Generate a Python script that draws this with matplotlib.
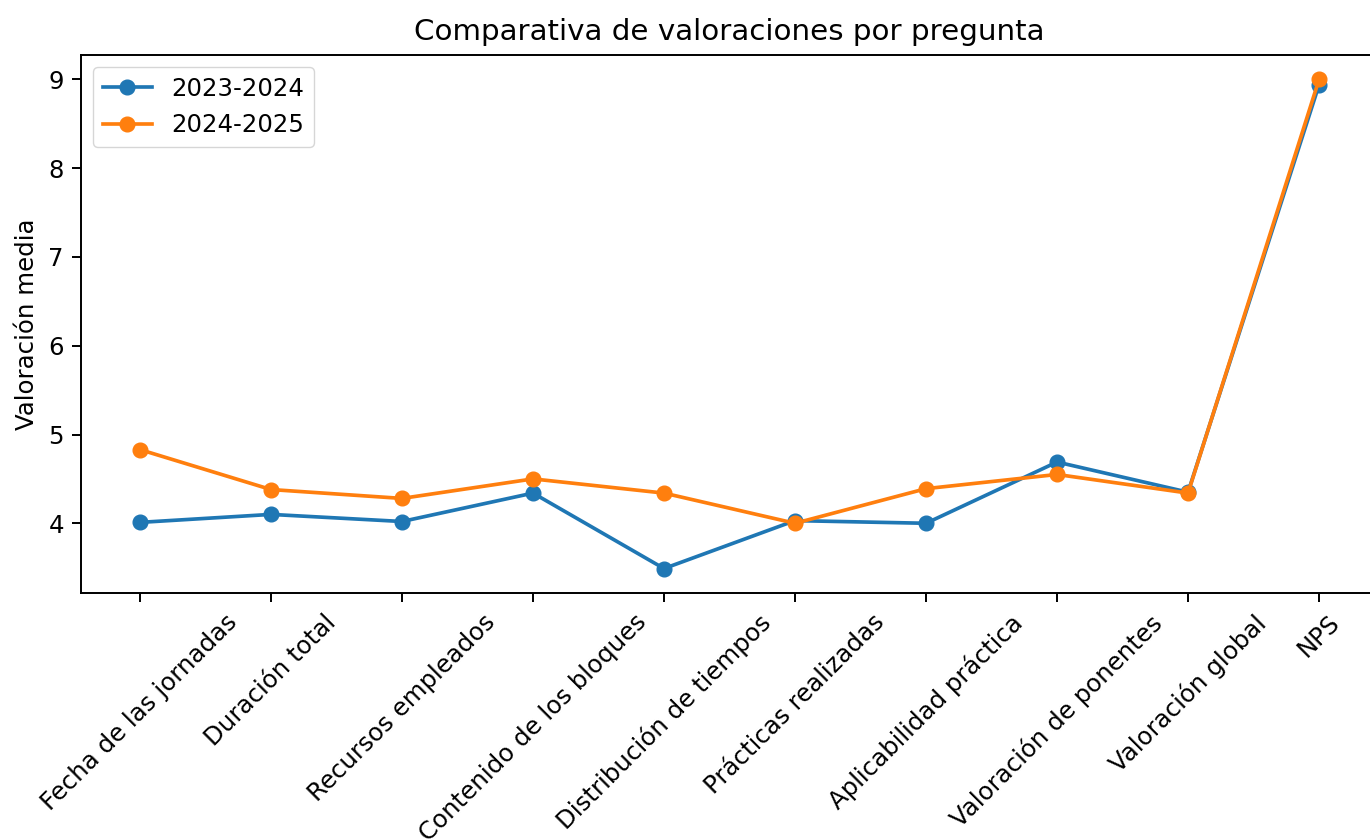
import matplotlib
matplotlib.use("Agg")
import matplotlib.pyplot as plt

# preguntas de la encuesta
preguntas = ["Fecha de las jornadas", "Duración total", "Recursos empleados",
             "Contenido de los bloques", "Distribución de tiempos", "Prácticas realizadas",
             "Aplicabilidad práctica", "Valoración de ponentes", "Valoración global", "NPS"]
val_2324 = [4.01, 4.10, 4.02, 4.34, 3.49, 4.03, 4.00, 4.69, 4.35, 8.94]
val_2425 = [4.83, 4.38, 4.28, 4.50, 4.34, 4.00, 4.39, 4.55, 4.34, 9.00]

s = 1.76  # escala respecto al tamaño por defecto
fig = plt.figure(figsize=(13.7, 8.4), dpi=100)
ax = fig.add_axes([81/1370, 1-593/840, 1297/1370, (593-55)/840])

x = range(len(preguntas))
ax.plot(x, val_2324, marker="o", color="#1f77b4", lw=1.5*s, ms=6*s, label="2023-2024")
ax.plot(x, val_2425, marker="o", color="#ff7f0e", lw=1.5*s, ms=6*s, label="2024-2025")

ax.set_xticks(list(x))
ax.set_xticklabels(preguntas, rotation=45)
ax.tick_params(labelsize=10*s, length=3.5*s, width=0.8*s, pad=3.5*s)
for sp in ax.spines.values():
    sp.set_linewidth(0.8*s)
ax.set_ylabel("Valoración media", fontsize=10*s, labelpad=4*s)
ax.set_title("Comparativa de valoraciones por pregunta", fontsize=12*s, pad=6*s)
ax.legend(loc="upper left", fontsize=10*s)

fig.savefig("out.png", dpi=100)
